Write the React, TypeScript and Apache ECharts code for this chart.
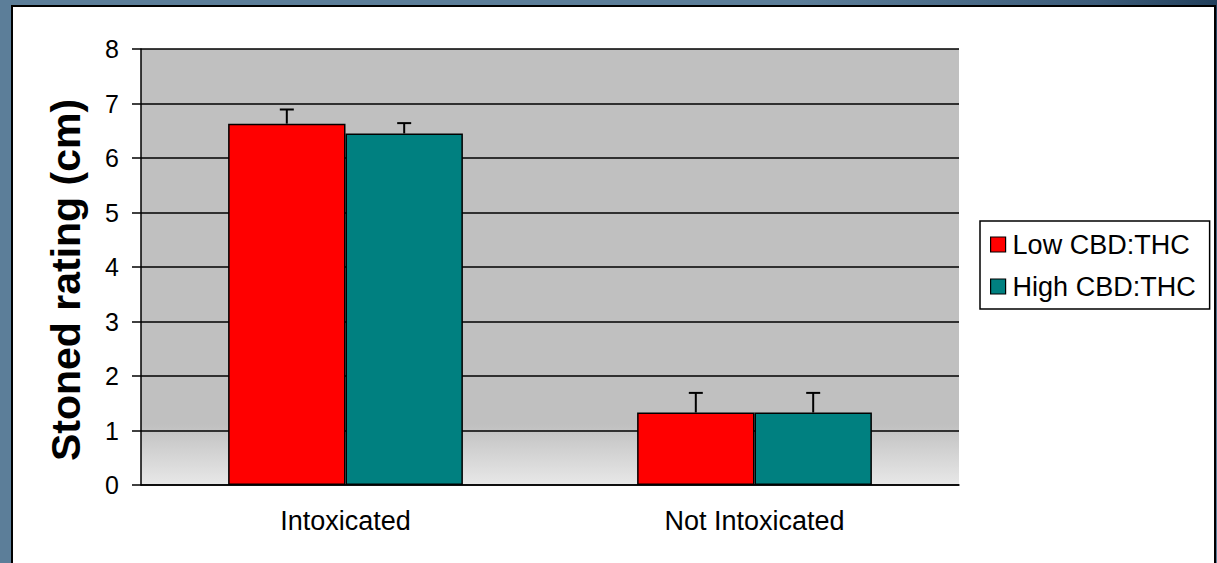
import React, { useEffect, useRef } from "react";
import * as echarts from "echarts";

const categories = ["Intoxicated", "Not Intoxicated"];
const seriesNames = ["Low CBD:THC", "High CBD:THC"];
const lowValues = [6.63, 1.33];
const highValues = [6.45, 1.33];
const lowErrors = [0.26, 0.36];
const highErrors = [0.19, 0.36];
const yTicks = { min: 0, max: 8, interval: 1 };

const BAR_FRAC = 0.287;
const FONT = "Liberation Sans, Arial, sans-serif";

export default function App() {
  const ref = useRef<HTMLDivElement>(null);
  useEffect(() => {
    document.body.style.margin = "0";
    const chart = echarts.init(ref.current!, null, { renderer: "svg" });
    const errData: number[][] = [];
    categories.forEach((_, i) => {
      errData.push([i, lowValues[i], lowValues[i] + lowErrors[i], -1]);
      errData.push([i, highValues[i], highValues[i] + highErrors[i], 1]);
    });
    chart.setOption({
      animation: false,
      textStyle: { fontFamily: FONT },
      grid: {
        left: 141,
        right: 258,
        top: 49,
        bottom: 78,
        show: true,
        borderWidth: 0,
        backgroundColor: new echarts.graphic.LinearGradient(0, 0, 0, 1, [
          { offset: 0, color: "#C0C0C0" },
          { offset: 0.86, color: "#C0C0C0" },
          { offset: 1, color: "#E8E8E8" },
        ]),
      },
      legend: {
        orient: "vertical",
        left: 980,
        top: 221,
        data: seriesNames,
        icon: "rect",
        itemWidth: 15,
        itemHeight: 15,
        itemGap: 15,
        padding: [10, 14, 9, 10],
        borderColor: "#000",
        borderWidth: 1.5,
        backgroundColor: "#fff",
        textStyle: { fontSize: 27, color: "#000", fontFamily: FONT, padding: [0, 0, 0, 2] },
        itemStyle: { borderColor: "#000", borderWidth: 1.2 },
      },
      xAxis: {
        type: "category",
        data: categories,
        axisLine: { lineStyle: { color: "#000", width: 1.5 } },
        axisTick: { length: 8, lineStyle: { color: "#000", width: 1.5 } },
        axisLabel: { fontSize: 27, color: "#000", margin: 22, fontFamily: FONT },
      },
      yAxis: {
        type: "value",
        min: yTicks.min,
        max: yTicks.max,
        interval: yTicks.interval,
        name: "Stoned rating (cm)",
        nameLocation: "middle",
        nameGap: 55,
        nameTextStyle: {
          fontSize: 41,
          fontWeight: "bold",
          color: "#000",
          fontFamily: FONT,
          padding: [0, 26, 0, 0],
        },
        axisLine: { show: true, lineStyle: { color: "#000", width: 1.5 } },
        axisTick: { show: true, length: 9, lineStyle: { color: "#000", width: 1.5 } },
        axisLabel: { fontSize: 25, color: "#000", margin: 22, fontFamily: FONT },
        splitLine: { lineStyle: { color: "#000", width: 1.5 } },
      },
      series: [
        {
          name: seriesNames[0],
          type: "bar",
          data: lowValues,
          barWidth: BAR_FRAC * 100 + "%",
          barGap: "0%",
          itemStyle: { color: "#FF0000", borderColor: "#000", borderWidth: 1.5 },
        },
        {
          name: seriesNames[1],
          type: "bar",
          data: highValues,
          barWidth: BAR_FRAC * 100 + "%",
          barGap: "0%",
          itemStyle: { color: "#008080", borderColor: "#000", borderWidth: 1.5 },
        },
        {
          name: "errors",
          type: "custom",
          z: 5,
          data: errData,
          renderItem: (params: any, api: any) => {
            const cat = api.value(0);
            const base = api.coord([cat, api.value(1)]);
            const top = api.coord([cat, api.value(2)]);
            const band = api.size([1, 0])[0];
            const side = api.value(3);
            const x = base[0] + (side * band * BAR_FRAC) / 2;
            const style = { stroke: "#000", lineWidth: 2 };
            return {
              type: "group",
              children: [
                { type: "line", shape: { x1: x, y1: base[1], x2: x, y2: top[1] }, style },
                { type: "line", shape: { x1: x - 7, y1: top[1], x2: x + 7, y2: top[1] }, style },
              ],
            };
          },
        },
      ],
    });
    return () => chart.dispose();
  }, []);

  return (
    <div
      style={{
        position: "absolute",
        left: 0,
        top: 0,
        width: 1217,
        height: 563,
        overflow: "hidden",
        background:
          "radial-gradient(circle at 100% 0%, #22405C 0px, #3C5C7A 120px, #5C7E99 420px)",
      }}
    >
      <div
        style={{
          position: "absolute",
          left: 11,
          top: 5,
          width: 1201,
          height: 600,
          background: "#fff",
          border: "2px solid #000",
        }}
      />
      <div ref={ref} style={{ position: "absolute", left: 0, top: 0, width: 1217, height: 563 }} />
    </div>
  );
}
